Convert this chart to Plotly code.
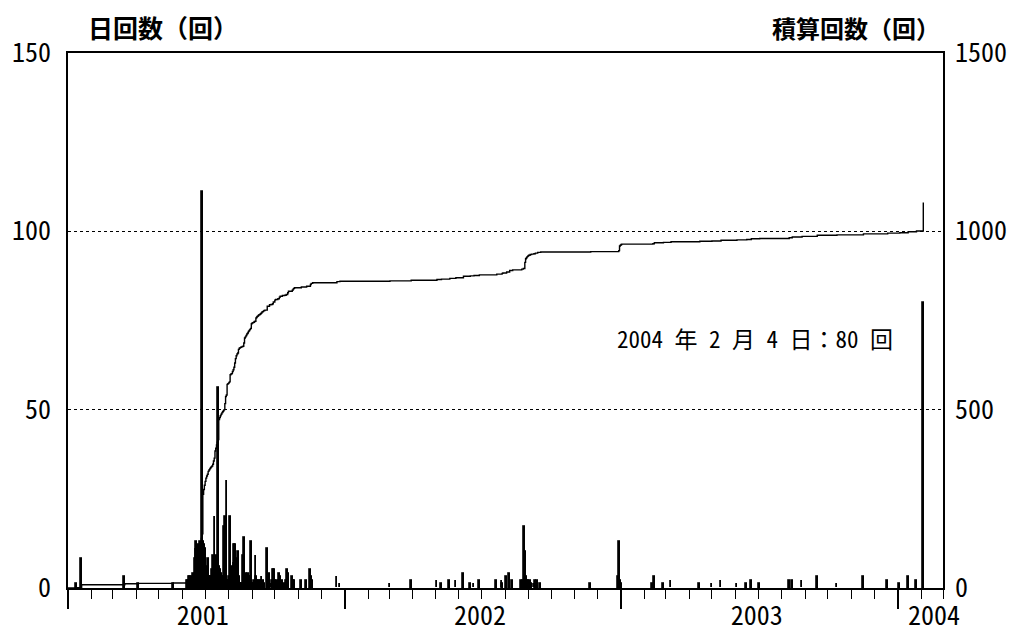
import numpy as np
import pandas as pd
import plotly.graph_objects as go

# ---------------- data (daily earthquake counts) ----------------
# isolated days before the 2001 swarm
pre_dates = ["2001-01-12", "2001-01-19", "2001-03-17", "2001-04-04", "2001-05-20"]
pre_counts = [1, 8, 3, 1, 1]

# 2001 swarm: contiguous daily counts
swarm_jun_start = "2001-06-08"
swarm_jun = [2, 2, 3, 3, 3, 2, 3, 3, 4, 3,
             8, 11, 13, 10, 12, 9, 10, 13, 11, 13,
             111, 13, 12]
swarm_jul_start = "2001-07-01"
swarm_jul = [11, 9, 6, 5, 8, 4, 3, 3, 3, 2,
             5, 9, 8, 20, 8, 9, 8, 7, 56, 6,
             5, 4, 4, 3, 3, 3, 17, 20, 4, 30, 2]
swarm_aug_start = "2001-08-01"
swarm_aug = [2, 3, 20, 2, 1, 6, 5, 7, 12, 12,
             8, 5, 3, 10, 3, 2, 1, 1, 1, 1,
             9, 14, 3, 4, 4, 3, 4, 3, 3, 3, 13]
swarm_sep_start = "2001-09-01"
swarm_sep = [2, 1, 1, 2, 1, 9, 3, 2, 2, 2,
             1, 2, 2, 3, 1, 2, 1, 1, 0, 0, 11]

# tail of 2001
tail_dates = ["2001-09-24", "2001-09-26", "2001-09-28", "2001-09-29", "2001-10-01", "2001-10-02",
              "2001-10-05", "2001-10-07", "2001-10-08", "2001-10-11", "2001-10-14", "2001-10-16",
              "2001-10-18", "2001-10-19", "2001-10-24", "2001-10-25", "2001-10-26", "2001-10-27",
              "2001-11-05", "2001-11-12", "2001-11-17", "2001-11-18", "2001-11-20", "2001-12-22",
              "2001-12-26"]
tail_counts = [4, 1, 2, 5, 5, 2, 2, 4, 3, 2, 1, 2, 5, 4, 3, 3, 2, 2, 2, 2, 5, 3, 2, 3, 1]

# 2002
y2002_dates = ["2002-03-02", "2002-03-30", "2002-05-03", "2002-05-09", "2002-05-20", "2002-05-28",
               "2002-06-07", "2002-06-16", "2002-06-21", "2002-06-28", "2002-07-21", "2002-07-28",
               "2002-07-29", "2002-08-03", "2002-08-07", "2002-08-11", "2002-08-23", "2002-08-25",
               "2002-08-27", "2002-08-28", "2002-08-29", "2002-08-30", "2002-08-31", "2002-09-01",
               "2002-09-03", "2002-09-05", "2002-09-08", "2002-09-10", "2002-09-13", "2002-09-17",
               "2002-11-22", "2002-12-29", "2002-12-30", "2002-12-31"]
y2002_counts = [1, 2, 2, 1, 2, 2, 4, 1, 1, 2, 2, 2, 1, 3, 4, 2, 2, 2,
                17, 10, 3, 3, 2, 2, 2, 1, 1, 2, 2, 1, 1, 3, 13, 2]

# 2003
y2003_dates = ["2003-01-01", "2003-01-02", "2003-02-12", "2003-02-14", "2003-02-26", "2003-03-08",
               "2003-04-15", "2003-05-01", "2003-05-13", "2003-06-03", "2003-06-16", "2003-06-22",
               "2003-07-03", "2003-08-11", "2003-08-15", "2003-08-28", "2003-09-17", "2003-10-13",
               "2003-11-17", "2003-12-19"]
y2003_counts = [2, 1, 1, 3, 1, 2, 1, 1, 2, 1, 1, 2, 1, 2, 2, 2, 3, 1, 3, 2]

# 2004
y2004_dates = ["2004-01-04", "2004-01-15", "2004-01-26", "2004-02-04"]
y2004_counts = [1, 3, 2, 80]

# axis labels / texts
year_label_pos = ["2001-06-28", "2002-06-29", "2003-06-29", "2004-02-18"]
year_labels = ["2001", "2002", "2003", "2004"]
year_starts = ["2001-01-01", "2002-01-01", "2003-01-01", "2004-01-01"]
x_range = ["2001-01-01", "2004-03-01"]
left_ticks = [0, 50, 100, 150]
right_ticks = [0, 500, 1000, 1500]

# ---------------- assemble ----------------
def run(start, vals):
    return list(pd.date_range(start, periods=len(vals), freq="D")), list(vals)

parts = [(pd.to_datetime(pre_dates), pre_counts)]
for s, v in [(swarm_jun_start, swarm_jun), (swarm_jul_start, swarm_jul),
             (swarm_aug_start, swarm_aug), (swarm_sep_start, swarm_sep)]:
    parts.append(run(s, v))
parts += [(pd.to_datetime(tail_dates), tail_counts),
          (pd.to_datetime(y2002_dates), y2002_counts),
          (pd.to_datetime(y2003_dates), y2003_counts),
          (pd.to_datetime(y2004_dates), y2004_counts)]

ser = pd.concat([pd.Series(list(c), index=list(d)) for d, c in parts])
ser = ser[ser > 0].groupby(level=0).sum().sort_index()
cum = ser.cumsum()

cum_x = [pd.Timestamp(x_range[0])] + list(ser.index)
cum_y = [0] + list(cum.values)

num_font = dict(family="Noto Sans Mono CJK JP, DejaVu Sans Mono, monospace", size=26, color="black")
jp_font = "Noto Sans Mono CJK JP, Noto Sans CJK JP, sans-serif"

fig = go.Figure()
fig.add_trace(go.Bar(x=ser.index, y=ser.values, width=86400000,
                     marker=dict(color="black", line=dict(color="black", width=1.8)),
                     showlegend=False, hoverinfo="x+y"))
fig.add_trace(go.Scatter(x=cum_x, y=cum_y, mode="lines", line=dict(color="black", width=1.4, shape="hv"),
                         yaxis="y2", showlegend=False))
fig.add_trace(go.Scatter(x=[], y=[], xaxis="x2", yaxis="y", showlegend=False))

fig.update_layout(
    width=1017, height=633,
    margin=dict(l=68, r=74, t=53, b=45, autoexpand=False),
    paper_bgcolor="white", plot_bgcolor="white",
    bargap=0,
    xaxis=dict(type="date", range=x_range, showline=True, linecolor="black", linewidth=1.5,
               mirror=True, tickmode="array", tickvals=year_starts, ticks="outside",
               ticklen=19, tickwidth=1.5, tickcolor="black", showticklabels=False,
               showgrid=False, zeroline=False, automargin=False,
               minor=dict(ticks="outside", ticklen=9, tickwidth=1.2, tickcolor="black",
                          dtick="M1", tick0="2001-01-01", showgrid=False)),
    xaxis2=dict(type="date", range=x_range, overlaying="x", anchor="y", side="bottom",
                tickmode="array", tickvals=year_label_pos, ticktext=year_labels,
                ticks="", showline=False, showgrid=False, zeroline=False, automargin=False,
                tickfont=num_font, ticklabelstandoff=10),
    yaxis=dict(range=[0, 150], tickvals=left_ticks, showgrid=True, gridcolor="black",
               griddash="dot", gridwidth=1, showline=True, linecolor="black", linewidth=1.5,
               ticks="", zeroline=False, tickfont=num_font, ticklabelstandoff=10, automargin=False),
    yaxis2=dict(range=[0, 1500], tickvals=right_ticks, overlaying="y", side="right",
                showgrid=False, showline=True, linecolor="black", linewidth=1.5,
                ticks="", zeroline=False, tickfont=num_font, ticklabelstandoff=5, automargin=False),
    annotations=[
        dict(text="<b>日回数（回）</b>", xref="paper", yref="paper",
             x=(163 - 68) / 875, y=1 + (53 - 27) / 535, xanchor="center", yanchor="middle",
             showarrow=False, font=dict(family=jp_font, size=25, color="black")),
        dict(text="<b>積算回数（回）</b>", xref="paper", yref="paper",
             x=(942 - 68) / 875, y=1 + (53 - 27) / 535, xanchor="right", yanchor="middle",
             showarrow=False, font=dict(family=jp_font, size=24, color="black")),
        dict(text="2004 年 2 月 4 日：80 回", xref="paper", yref="y",
             x=(895 - 68) / 875, y=70.2, xanchor="right", yanchor="middle",
             showarrow=False, font=dict(family=jp_font, size=23, color="black")),
    ],
)

fig.write_html("out.html", config={"displayModeBar": False},
               post_script="document.body.style.margin='0';document.body.style.overflow='hidden';")
